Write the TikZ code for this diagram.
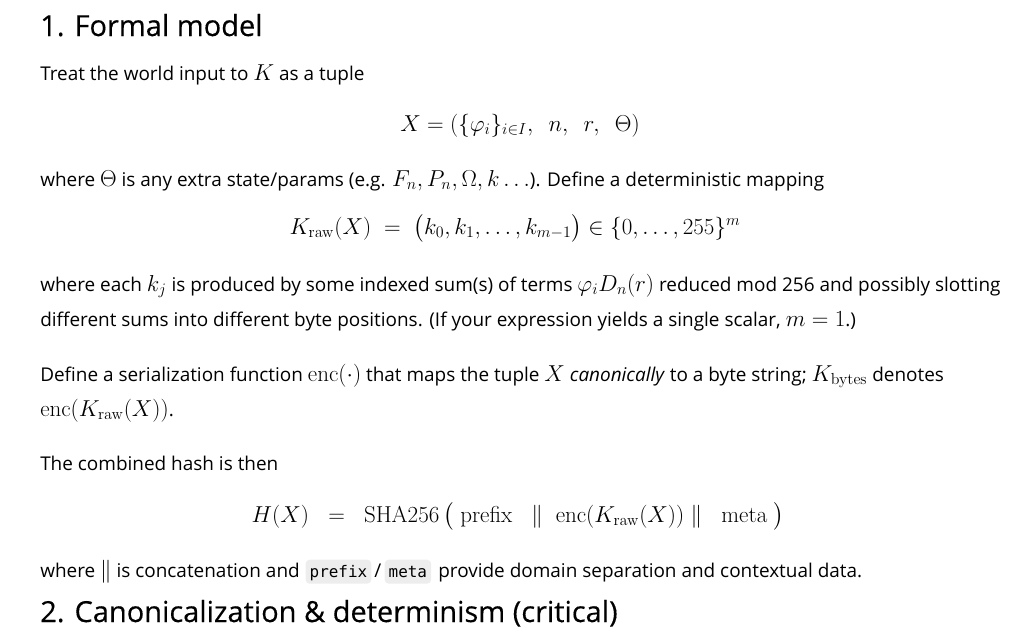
\documentclass[tikz,border=0pt]{standalone}
\usepackage{amsmath}
\usepackage[no-math]{fontspec}
\setmainfont{Open Sans}[Scale=0.76]
\setmonofont{DejaVu Sans Mono}[Scale=0.64]
\newfontfamily\headfont{Open Sans}[Scale=0.76,FakeBold=0.3]
\begin{document}
\begin{tikzpicture}[x=0.75pt,y=-0.75pt,
	txt/.style={anchor=base west,inner sep=0pt,font=\fontsize{18.7}{22}\selectfont},
	eqn/.style={anchor=base,inner sep=0pt,font=\fontsize{18.7}{22}\selectfont},
	heading/.style={anchor=base west,inner sep=0pt,font=\fontsize{28.6}{34}\headfont},
	codebox/.style={anchor=base west,inner xsep=3pt,inner ysep=0pt,text height=13pt,text depth=5pt,
		fill=black!7,rounded corners=3pt,font=\fontsize{18.7}{22}\ttfamily}]
	\useasboundingbox (0,0) rectangle (1016,643);
	% section 1
	\node (title) at (40,36) [heading] {1. Formal model};
	\node (intro) at (40,80) [txt] {Treat the world input to $K$ as a tuple};
	\node (tuple) at (520,131) [eqn] {$X = (\{\varphi_i\}_{i\in I},\;\: n,\;\: r,\;\: \Theta)$};
	\node (theta) at (40,186) [txt] {where $\Theta$ is any extra state/params (e.g. $F_n, P_n, \Omega, k\ldots$). Define a deterministic mapping};
	\node (kraw) at (515,234) [eqn] {$K_{\mathrm{raw}}(X) \;=\; \bigl(k_0, k_1, \ldots, k_{m-1}\bigr) \in \{0,\ldots,255\}^m$};
	\node (each1) at (40,291) [txt] {where each $k_j$ is produced by some indexed sum(s) of terms $\varphi_i D_n(r)$ reduced mod 256 and possibly slotting};
	\node (each2) at (40,326) [txt] {different sums into different byte positions. (If your expression yields a single scalar, $m=1$.)};
	\node (enc1) at (40,381) [txt] {Define a serialization function $\operatorname{enc}(\cdot)$ that maps the tuple $X$ \emph{canonically} to a byte string; $K_{\mathrm{bytes}}$ denotes};
	\node (enc2) at (40,416) [txt] {$\operatorname{enc}(K_{\mathrm{raw}}(X))$.};
	\node (comb) at (40,470) [txt] {The combined hash is then};
	\node (hash) at (518,522) [eqn] {$H(X) \;\;=\;\; \mathrm{SHA256}\,\bigl(\;\mathrm{prefix}\;\;\;\|\;\;\mathrm{enc}(K_{\mathrm{raw}}(X))\;\|\;\;\;\mathrm{meta}\;\bigr)$};
	% line with inline code
	\node (where) at (40,577) [txt] {where $\|$ is concatenation and};
	\node (prefix) at ([xshift=4]where.base east) [codebox] {prefix};
	\node (slash) at ([xshift=2]prefix.base east) [txt] {/};
	\node (meta) at ([xshift=2]slash.base east) [codebox] {meta};
	\node (rest) at ([xshift=5]meta.base east) [txt] {provide domain separation and contextual data.};
	% section 2
	\node (title2) at (40,622) [heading] {2. Canonicalization \& determinism (critical)};
	\draw [black!12] (504,650) arc (180:0:14);
\end{tikzpicture}
\end{document}
